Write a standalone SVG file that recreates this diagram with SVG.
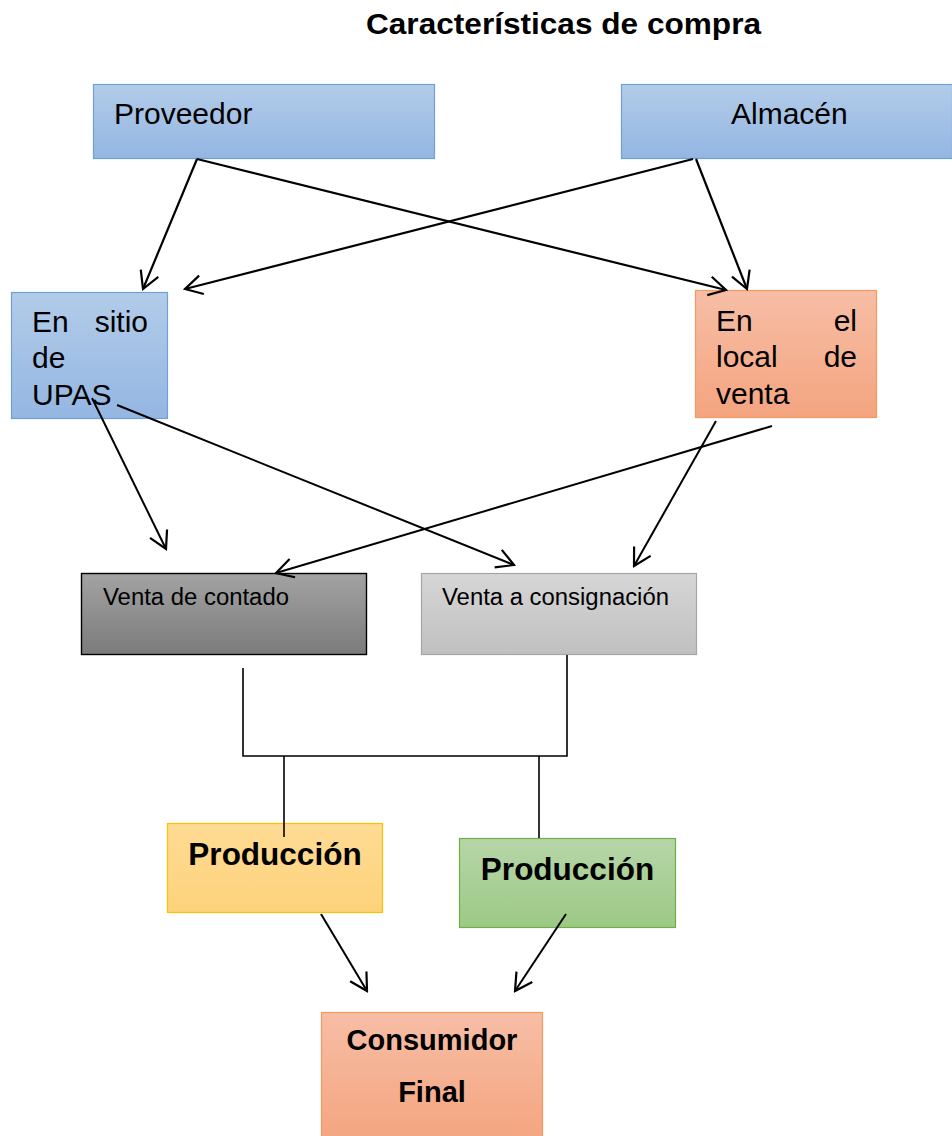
<svg xmlns="http://www.w3.org/2000/svg" width="952" height="1136" viewBox="0 0 952 1136">
<style>
  text { font-family: "Liberation Sans", Arial, sans-serif; fill: #000; }
  .big { font-size: 30px; }
  .mid { font-size: 23.5px; }
  .bold { font-weight: bold; }
  .arr { stroke: #000; stroke-width: 2.2; fill: none; marker-end: url(#open); }
  .arr2 { stroke: #000; stroke-width: 2; fill: none; marker-end: url(#open); }
  .ln { stroke: #000; stroke-width: 1.6; fill: none; }
</style>
<defs>
  <linearGradient id="gBlue" x1="0" y1="0" x2="0" y2="1"><stop offset="0" stop-color="#b2cce9"/><stop offset="1" stop-color="#94b6e2"/></linearGradient>
  <linearGradient id="gOrange" x1="0" y1="0" x2="0" y2="1"><stop offset="0" stop-color="#f7bea6"/><stop offset="1" stop-color="#f4a47f"/></linearGradient>
  <linearGradient id="gDark" x1="0" y1="0" x2="0" y2="1"><stop offset="0" stop-color="#a3a3a3"/><stop offset="1" stop-color="#7b7b7b"/></linearGradient>
  <linearGradient id="gLight" x1="0" y1="0" x2="0" y2="1"><stop offset="0" stop-color="#d6d6d6"/><stop offset="1" stop-color="#c0c0c0"/></linearGradient>
  <linearGradient id="gYellow" x1="0" y1="0" x2="0" y2="1"><stop offset="0" stop-color="#fedb94"/><stop offset="1" stop-color="#fdd27b"/></linearGradient>
  <linearGradient id="gGreen" x1="0" y1="0" x2="0" y2="1"><stop offset="0" stop-color="#b7d6a8"/><stop offset="1" stop-color="#9cc985"/></linearGradient>
  <marker id="open" markerUnits="userSpaceOnUse" markerWidth="22" markerHeight="22" viewBox="0 0 22 22" refX="20" refY="11" orient="auto">
    <path d="M3,1.5 L20,11 L3,20.5" fill="none" stroke="#000" stroke-width="2.2"/>
  </marker>
</defs>

<text class="bold" x="563.5" y="34" font-size="29" text-anchor="middle" textLength="395" lengthAdjust="spacingAndGlyphs">Características de compra</text>

<g id="proveedor">
  <rect x="93.5" y="84.5" width="341" height="74" fill="url(#gBlue)" stroke="#6fa0d8" stroke-width="1.2"/>
  <text class="big" x="114" y="124">Proveedor</text>
</g>
<g id="almacen">
  <rect x="621.5" y="84.5" width="331" height="74" fill="url(#gBlue)" stroke="#6fa0d8" stroke-width="1.2"/>
  <text class="big" x="731" y="124">Almacén</text>
</g>
<g id="sitio-upas">
  <rect x="11.5" y="292.5" width="156" height="126" fill="url(#gBlue)" stroke="#6fa0d8" stroke-width="1.2"/>
  <text class="big" x="32" y="332">En</text>
  <text class="big" x="148" y="332" text-anchor="end">sitio</text>
  <text class="big" x="32" y="368">de</text>
  <text class="big" x="32" y="405">UPAS</text>
</g>
<g id="local-venta">
  <rect x="695.5" y="290.5" width="181" height="127" fill="url(#gOrange)" stroke="#f39a5c" stroke-width="1.2"/>
  <text class="big" x="716" y="331">En</text>
  <text class="big" x="857" y="331" text-anchor="end">el</text>
  <text class="big" x="716" y="367">local</text>
  <text class="big" x="857" y="367" text-anchor="end">de</text>
  <text class="big" x="716" y="404">venta</text>
</g>
<g id="venta-contado">
  <rect x="81.5" y="573.5" width="285" height="81" fill="url(#gDark)" stroke="#000" stroke-width="1.4"/>
  <text class="mid" x="103" y="605" textLength="186" lengthAdjust="spacingAndGlyphs">Venta de contado</text>
</g>
<g id="venta-consignacion">
  <rect x="421.5" y="573.5" width="275" height="81" fill="url(#gLight)" stroke="#a6a6a6" stroke-width="1.2"/>
  <text class="mid" x="442" y="605" textLength="227" lengthAdjust="spacingAndGlyphs">Venta a consignación</text>
</g>
<g id="produccion-1">
  <rect x="167.5" y="823.5" width="215" height="89" fill="url(#gYellow)" stroke="#ffc000" stroke-width="1.2"/>
  <text class="bold" x="275" y="865" font-size="31.5" text-anchor="middle">Producción</text>
</g>
<g id="produccion-2">
  <rect x="459.5" y="838.5" width="216" height="89" fill="url(#gGreen)" stroke="#70ad47" stroke-width="1.2"/>
  <text class="bold" x="567.5" y="880" font-size="31.5" text-anchor="middle">Producción</text>
</g>
<g id="consumidor-final">
  <rect x="321.5" y="1012.5" width="221" height="130" fill="url(#gOrange)" stroke="#f39a5c" stroke-width="1.2"/>
  <text class="bold" x="432" y="1050" font-size="29" text-anchor="middle">Consumidor</text>
  <text class="bold" x="432" y="1102" font-size="29" text-anchor="middle">Final</text>
</g>

<g id="connectors">
  <line class="arr" x1="197" y1="159" x2="143" y2="289"/>
  <line class="arr" x1="197" y1="159" x2="726" y2="290"/>
  <line class="arr" x1="693" y1="159" x2="185" y2="289"/>
  <line class="arr" x1="696" y1="159" x2="747" y2="289"/>
  <line class="arr2" x1="92" y1="398" x2="166" y2="549"/>
  <line class="arr2" x1="117" y1="405" x2="514" y2="565"/>
  <line class="arr2" x1="772" y1="426" x2="276" y2="573"/>
  <line class="arr2" x1="716" y1="421" x2="634" y2="566"/>
  <polyline class="ln" points="243,668 243,756 567,756 567,655"/>
  <line class="ln" x1="284" y1="756" x2="284" y2="837"/>
  <line class="ln" x1="539" y1="756" x2="539" y2="838"/>
  <line class="arr2" x1="321" y1="914" x2="367" y2="991"/>
  <line class="arr2" x1="566" y1="914" x2="515" y2="991"/>
</g>
</svg>
